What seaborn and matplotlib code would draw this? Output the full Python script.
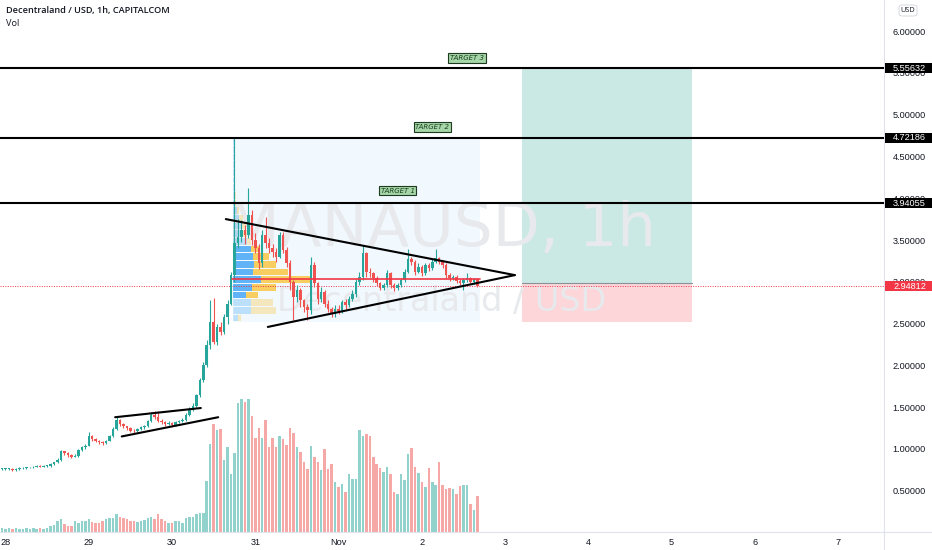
import numpy as np
import pandas as pd
import matplotlib
matplotlib.use("Agg")
import matplotlib.pyplot as plt
import matplotlib.transforms as mtrans
from matplotlib.patches import Rectangle, FancyBboxPatch
from matplotlib.lines import Line2D
import seaborn as sns

# ---------------- data (hourly candles, hour 0 = 28 Oct 00:00) ----------------
hours = list(range(-1, 137))
first_open = 0.76
close = [0.76, 0.76, 0.76, 0.75, 0.76, 0.77, 0.77, 0.78, 0.78, 0.79,
         0.80, 0.79, 0.80, 0.80, 0.82, 0.84, 0.87, 0.97, 0.95, 0.93,
         0.91, 0.92, 0.99, 1.02, 1.04, 1.16, 1.12, 1.10, 1.08, 1.07,
         1.10, 1.15, 1.24, 1.35, 1.30, 1.27, 1.25, 1.22, 1.21, 1.24,
         1.26, 1.27, 1.33, 1.41, 1.38, 1.34, 1.32, 1.30, 1.31, 1.29,
         1.32, 1.33, 1.35, 1.41, 1.48, 1.52, 1.64, 1.82, 2.00, 2.24,
         2.52, 2.28, 2.46, 2.40, 2.58, 2.74, 3.08, 3.46, 3.54, 3.62,
         3.56, 3.80, 3.50, 3.40, 3.22, 3.56, 3.46, 3.40, 3.36, 3.30,
         3.56, 3.38, 3.22, 3.00, 2.82, 2.90, 2.78, 2.70, 2.66, 3.20,
         2.98, 2.80, 2.88, 2.74, 2.68, 2.63, 2.68, 2.65, 2.76, 2.72,
         2.80, 2.86, 3.00, 3.06, 3.34, 3.12, 3.10, 3.04, 2.98, 2.93,
         2.96, 3.10, 2.96, 2.92, 2.96, 3.02, 3.12, 3.27, 3.24, 3.12,
         3.18, 3.10, 3.20, 3.16, 3.24, 3.28, 3.24, 3.20, 3.08, 3.04,
         3.06, 3.01, 2.99, 3.02, 3.05, 3.00, 3.03, 2.95]
high = [0.77, 0.77, 0.77, 0.77, 0.77, 0.78, 0.78, 0.79, 0.79, 0.80,
        0.81, 0.81, 0.81, 0.81, 0.83, 0.85, 0.89, 0.99, 0.98, 0.96,
        0.94, 0.94, 1.00, 1.04, 1.06, 1.20, 1.17, 1.13, 1.11, 1.10,
        1.11, 1.17, 1.26, 1.39, 1.36, 1.31, 1.28, 1.26, 1.24, 1.25,
        1.28, 1.29, 1.35, 1.44, 1.46, 1.45, 1.36, 1.33, 1.33, 1.32,
        1.33, 1.35, 1.37, 1.43, 1.50, 1.55, 1.66, 1.85, 2.04, 2.30,
        2.78, 2.81, 2.50, 2.52, 2.62, 2.78, 3.12, 4.72, 3.75, 3.74,
        3.68, 4.12, 3.86, 3.58, 3.45, 3.62, 3.77, 3.52, 3.45, 3.40,
        3.60, 3.60, 3.42, 3.26, 3.02, 2.96, 2.92, 2.80, 2.74, 3.30,
        3.24, 3.00, 2.94, 2.90, 2.78, 2.70, 2.72, 2.72, 2.78, 2.79,
        2.83, 2.90, 3.03, 3.12, 3.44, 3.36, 3.16, 3.12, 3.07, 3.00,
        2.99, 3.14, 3.12, 2.98, 2.99, 3.05, 3.15, 3.39, 3.30, 3.26,
        3.22, 3.20, 3.23, 3.22, 3.27, 3.39, 3.30, 3.26, 3.22, 3.10,
        3.08, 3.08, 3.03, 3.04, 3.10, 3.06, 3.05, 3.04]
low = [0.75, 0.75, 0.75, 0.74, 0.74, 0.75, 0.76, 0.76, 0.77, 0.77,
       0.78, 0.78, 0.78, 0.79, 0.79, 0.81, 0.83, 0.86, 0.93, 0.91,
       0.89, 0.90, 0.91, 0.97, 1.00, 1.03, 1.10, 1.08, 1.06, 1.05,
       1.06, 1.09, 1.14, 1.23, 1.28, 1.25, 1.23, 1.20, 1.19, 1.20,
       1.23, 1.24, 1.26, 1.32, 1.36, 1.32, 1.30, 1.28, 1.29, 1.27,
       1.28, 1.31, 1.32, 1.34, 1.40, 1.46, 1.50, 1.62, 1.80, 1.98,
       2.20, 2.25, 2.24, 2.36, 2.38, 2.50, 2.72, 3.00, 3.40, 3.48,
       3.45, 3.52, 3.44, 3.34, 3.15, 3.18, 3.40, 3.35, 3.30, 3.24,
       3.28, 3.34, 3.18, 2.90, 2.54, 2.76, 2.70, 2.64, 2.54, 2.62,
       2.94, 2.74, 2.76, 2.70, 2.64, 2.58, 2.58, 2.61, 2.63, 2.68,
       2.70, 2.77, 2.82, 2.96, 3.02, 3.06, 3.06, 3.00, 2.95, 2.90,
       2.90, 2.94, 2.92, 2.89, 2.90, 2.94, 3.00, 3.10, 3.20, 3.08,
       3.10, 3.07, 3.08, 3.13, 3.14, 3.22, 3.21, 3.17, 3.05, 3.01,
       3.02, 2.99, 2.96, 2.90, 3.00, 2.98, 2.97, 2.94]
volume = [3, 2, 3, 2, 3, 2, 2, 3, 2, 3, 2, 3, 2, 3,
          5, 6, 10, 12, 7, 5, 5, 10, 8, 10, 10, 12, 9, 8, 8, 10, 12, 13, 13, 17,
          14, 13, 12, 10, 10, 9, 10, 11, 13, 14, 12, 17, 12, 10, 8, 8, 10, 10,
          8, 13, 14, 14, 17, 18, 18, 50, 86, 106, 100, 101, 70, 83, 57, 77,
          127, 131, 128, 131, 114, 92, 102, 92, 110, 83, 92, 83, 94, 91, 85, 102,
          97, 83, 78, 68, 62, 84, 73, 68, 61, 81, 62, 66, 49, 44, 47, 39, 57, 52,
          52, 100, 94, 96, 94, 73, 66, 63, 59, 64, 57, 39, 37, 57, 51, 76, 82, 64,
          58, 49, 44, 63, 49, 46, 68, 46, 42, 43, 42, 37, 45, 46, 46, 27, 21, 35]

# volume profile (fixed range) rows from 2.52 upward
profile_base = 2.52
profile_row = 0.0917
profile_up = [5, 18, 18, 13, 19, 28, 20, 21, 20, 18, 14, 10, 8, 6, 4, 2, 2, 1, 1, 1, 1, 1, 1, 1]
profile_total = [8, 43, 40, 25, 43, 77, 55, 43, 36, 26, 18, 14, 13, 10, 6, 3, 3, 2, 2, 2, 2, 1, 1, 1]
value_area_rows = [3, 4, 5, 6, 7, 8, 9]

x_tick_pos = [0, 24, 48, 72, 96, 120, 144, 168, 192, 216, 240]
x_tick_labels = ["28", "29", "30", "31", "Nov", "2", "3", "4", "5", "6", "7"]
y_ticks = [0.5, 1.0, 1.5, 2.0, 2.5, 3.0, 3.5, 4.0, 4.5, 5.0, 5.5, 6.0]

target_levels = [3.94055, 4.72186, 5.55632]
target_names = ["TARGET 1", "TARGET 2", "TARGET 3"]
target_label_h = [113, 123, 133]
target_label_p = [4.09, 4.85, 5.68]
last_price = 2.94812
poc_price = 3.03
entry_price = 2.99
stop_price = 2.52
position_start, position_end = 148.9, 197.8
range_start, range_end, range_low, range_high = 66.0, 136.7, 2.52, 4.72

# drawn trend lines: (hour, price) endpoints
tri_upper = [(63.5, 3.75), (146.8, 3.08)]
tri_lower = [(75.6, 2.46), (146.8, 3.08)]
chan_upper = [(31.6, 1.38), (56.3, 1.49)]
chan_lower = [(33.5, 1.15), (61.3, 1.38)]

# ---------------- styling ----------------
sns.set_theme(style="white")
plt.rcParams["font.family"] = ["Open Sans", "DejaVu Sans"]

UP = "#26a69a"
DOWN = "#ef5350"
TXT = "#131722"

W, H = 932, 550
fig = plt.figure(figsize=(W / 100, H / 100), dpi=100)
fig.patch.set_facecolor("white")
plot_right = 884
plot_bottom = 531.5
rect = [0, (H - plot_bottom) / H, plot_right / W, plot_bottom / H]

axv = fig.add_axes(rect, zorder=1)
ax = fig.add_axes(rect, zorder=2, sharex=axv)
ax.patch.set_alpha(0)
axv.patch.set_facecolor("white")

xmin, xmax = -1.585, 253.2
ymin, ymax = 0.013, 6.371
ax.set_xlim(xmin, xmax)
ax.set_ylim(ymin, ymax)

opens = [first_open] + close[:-1]
df = pd.DataFrame({"h": hours, "o": opens, "h_": high, "l": low, "c": close, "v": volume})
df["up"] = df["c"] >= df["o"]
df["col"] = np.where(df["up"], UP, DOWN)

# volume
axv.bar(df["h"], df["v"], width=0.72, color=df["col"], alpha=0.5, linewidth=0)
axv.set_ylim(0, max(volume) * plot_bottom / 133.0)
axv.set_axis_off()

# watermark
ax.text(0.5, 0.569, "MANAUSD, 1h", transform=ax.transAxes, ha="center", va="center",
        fontsize=44, color="#e7e9ed", family="DejaVu Sans", zorder=1.5)
ax.text(0.5, 0.432, "Decentraland / USD", transform=ax.transAxes, ha="center", va="center",
        fontsize=24, color="#e7e9ed", family="DejaVu Sans", zorder=1.5)

# fixed-range volume profile background
ax.add_patch(Rectangle((range_start, range_low), range_end - range_start, range_high - range_low,
                       facecolor="#2196f3", alpha=0.06, linewidth=0, zorder=1))
px_to_h = 1 / 3.47
prof_left = 65.6
for i, (u, t) in enumerate(zip(profile_up, profile_total)):
    yc = profile_base + (i + 0.5) * profile_row
    va = i in value_area_rows
    ax.barh(yc, u * px_to_h, left=prof_left, height=profile_row * 0.86,
            color="#2196f3", alpha=0.7 if va else 0.25, linewidth=0, zorder=2)
    ax.barh(yc, (t - u) * px_to_h, left=prof_left + u * px_to_h, height=profile_row * 0.86,
            color="#fbc02d", alpha=0.75 if va else 0.3, linewidth=0, zorder=2)

# long position box
ax.add_patch(Rectangle((position_start, entry_price), position_end - position_start,
                       target_levels[2] - entry_price, facecolor="#089981", alpha=0.21,
                       linewidth=0, zorder=1.2))
ax.add_patch(Rectangle((position_start, stop_price), position_end - position_start,
                       entry_price - stop_price, facecolor="#f23645", alpha=0.2,
                       linewidth=0, zorder=1.2))
ax.plot([position_start, position_end], [entry_price, entry_price], color="#8d9099", lw=0.8, zorder=1.3)

# candles
ax.vlines(df["h"], df["l"], df["h_"], colors=df["col"], lw=0.8, zorder=5)
body_lo = np.minimum(df["o"], df["c"])
body_hi = np.maximum(df["o"], df["c"])
ax.bar(df["h"], np.maximum(body_hi - body_lo, 0.008), bottom=body_lo, width=0.72,
       color=df["col"], linewidth=0, zorder=6)

# POC line
ax.plot([65.3, range_end], [poc_price, poc_price], color="#f23645", lw=1.2, zorder=7)

# target lines
for lv in target_levels:
    ax.axhline(lv, color="black", lw=1.5, zorder=8)

# last price dotted
ax.axhline(last_price, color="#f23645", lw=0.7, ls=(0, (1, 1.5)), zorder=3)

# trend lines via seaborn
tl = []
for k, seg in enumerate([tri_upper, tri_lower, chan_upper, chan_lower]):
    for (hx, py) in seg:
        tl.append({"h": hx, "p": py, "line": k})
tl = pd.DataFrame(tl)
sns.lineplot(data=tl, x="h", y="p", units="line", estimator=None, sort=False,
             color="black", lw=1.5, ax=ax, legend=False, zorder=9)
ax.set_xlabel("")
ax.set_ylabel("")

# target labels
for name, hx, py in zip(target_names, target_label_h, target_label_p):
    ax.text(hx, py, name, ha="center", va="center", fontsize=5, style="italic",
            color="#1b3d1f", family="DejaVu Sans", zorder=10,
            bbox=dict(boxstyle="square,pad=0.25", facecolor="#a5d6a7", edgecolor="#1e3a20", lw=0.8))

# axes ticks
ax.yaxis.tick_right()
ax.set_yticks(y_ticks)
ax.set_yticklabels([f"{v:.5f}" for v in y_ticks])
ax.set_xticks(x_tick_pos)
ax.set_xticklabels(x_tick_labels)
ax.tick_params(axis="y", length=0, pad=6.3, labelsize=6.6, labelcolor=TXT)
ax.tick_params(axis="x", length=0, pad=5.0, labelsize=6.6, labelcolor=TXT)
for lab in ax.get_yticklabels() + ax.get_xticklabels():
    lab.set_family(["Liberation Sans", "DejaVu Sans"])
for s in ax.spines.values():
    s.set_visible(False)
ax.grid(False)

# frame lines
fig.add_artist(Line2D([0, 1], [(H - plot_bottom) / H] * 2, color="#e0e3eb", lw=0.8))
fig.add_artist(Line2D([plot_right / W] * 2, [0, 1], color="#e0e3eb", lw=0.8))

# right-axis price labels
btr = mtrans.blended_transform_factory(fig.transFigure, ax.transData)
box_h = 9.5 / 83.6
for val, bg in [(target_levels[0], "black"), (target_levels[1], "black"),
                (target_levels[2], "black"), (last_price, "#f23645")]:
    ax.add_patch(Rectangle((885 / W, val - box_h / 2), 47 / W, box_h, transform=btr,
                           facecolor=bg, edgecolor="none", clip_on=False, zorder=20))
    ax.text(893 / W, val, f"{val:.5f}", transform=btr, ha="left", va="center",
            fontsize=6.6, color="white", family=["Liberation Sans", "DejaVu Sans"],
            clip_on=False, zorder=21)

# USD box
fig.add_artist(FancyBboxPatch((899 / W, 1 - 16 / H), 18 / W, 11 / H,
                              boxstyle="round,pad=0,rounding_size=0.004",
                              facecolor="white", edgecolor="#d1d4dc", lw=0.6,
                              transform=fig.transFigure))
fig.text(908 / W, 1 - 10.5 / H, "USD", ha="center", va="center", fontsize=5.3, color=TXT)

# header
fig.text(6 / W, 1 - 11 / H, "Decentraland / USD, 1h, CAPITALCOM", ha="left", va="center",
         fontsize=6.6, color=TXT, weight="semibold")
fig.text(6 / W, 1 - 23 / H, "Vol", ha="left", va="center", fontsize=6.6, color=TXT)

fig.savefig("out.png", dpi=100, facecolor="white")
